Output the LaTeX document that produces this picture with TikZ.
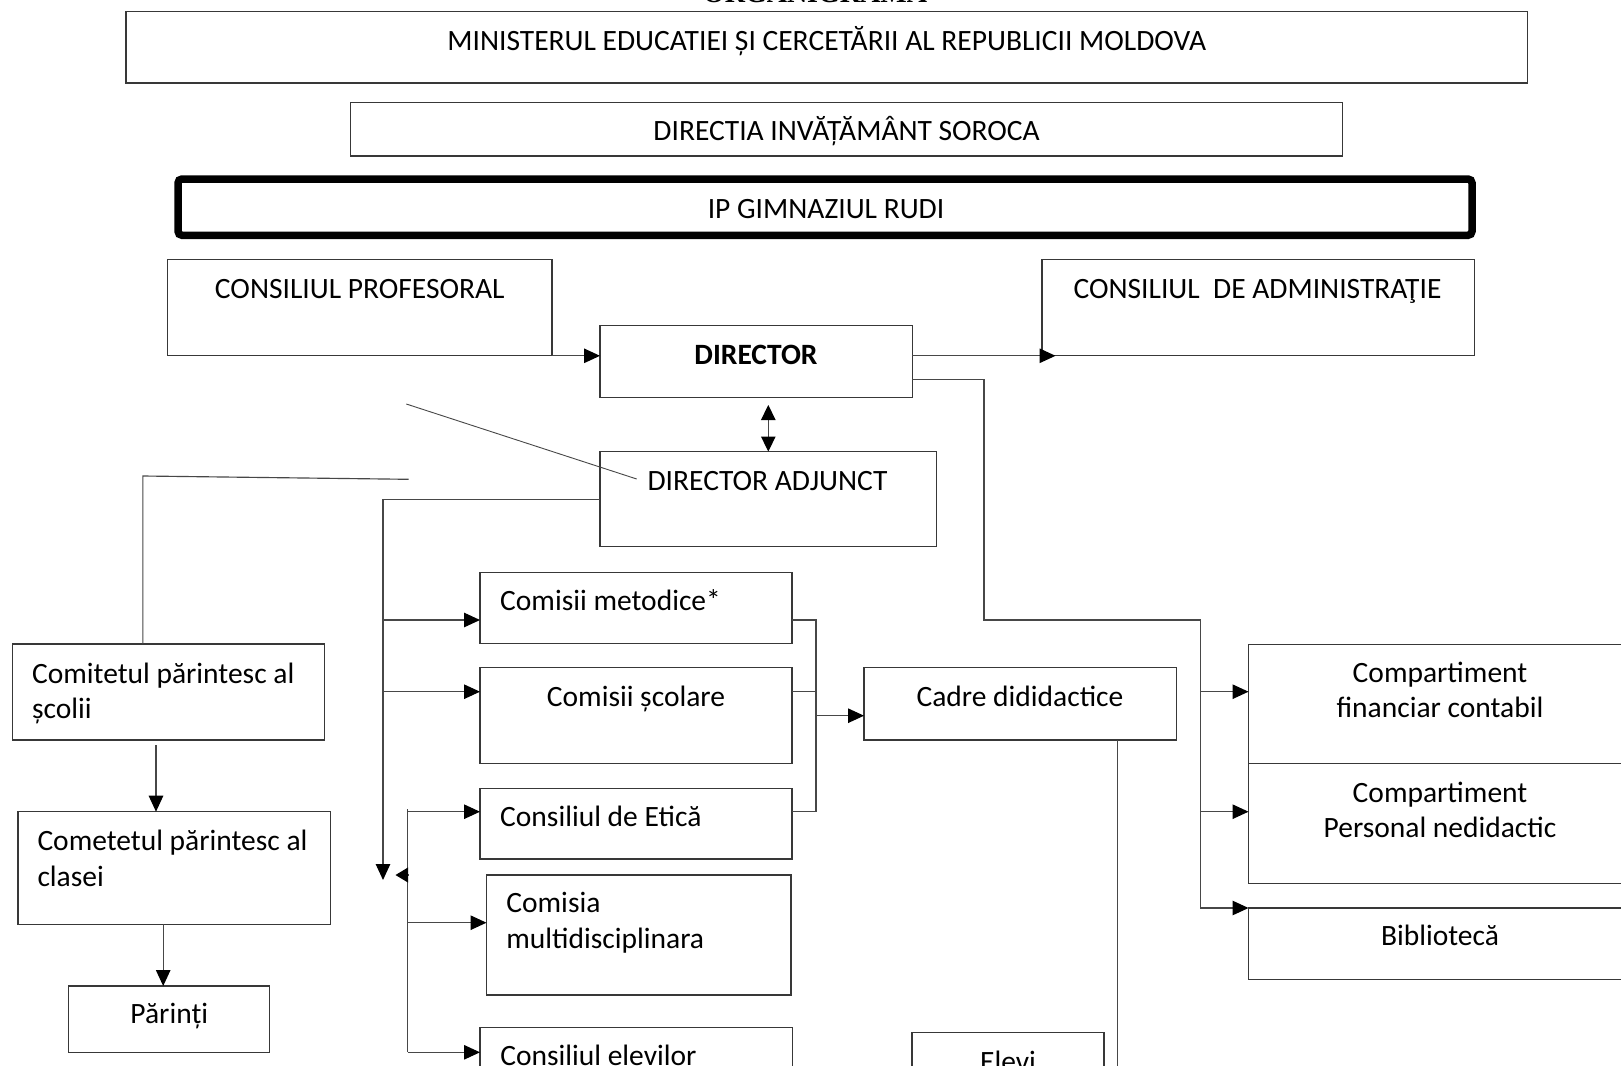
\documentclass[tikz,border=0pt]{standalone}
\usepackage{fontspec}
\setmainfont{Carlito}
\newfontfamily\titlefont{Liberation Serif}
\usetikzlibrary{arrows.meta,fit,calc}
\newcommand{\nfont}{\fontsize{29.5}{35}\selectfont}
\begin{document}
\begin{tikzpicture}[x=1pt,y=-1pt,
  box/.style={draw=black!78, line width=1.3pt, inner sep=0pt, outer sep=0pt, rectangle},
  con/.style={draw=black!72, line width=1.15pt},
  arr/.style={con, -{Triangle[length=16pt,width=14.5pt,color=black]}},
  dbl/.style={con, {Triangle[length=15pt,width=14.5pt,color=black]}-{Triangle[length=15pt,width=14.5pt,color=black]}},
  txt/.style={inner sep=0pt, outer sep=0pt, font=\nfont, text=black},
]
\useasboundingbox (0,0) rectangle (1621,1065);
\clip (0,0) rectangle (1621,1065);
\fill[white] (0,0) rectangle (1621,1065);

% title (cut at top)
\node[inner sep=0pt, anchor=base, font=\titlefont\bfseries\fontsize{28}{28}\selectfont] (title) at (815,3) {ORGANIGRAMA};

% boxes
\node[box, fit={(126,11.5) (1527.5,83)}] (min) {};
\node[box, fit={(350.5,102.3) (1342.7,156)}] (dir) {};
\node[box, draw=black, line width=7.5pt, rounded corners=4pt, fit={(178,179) (1472,235.3)}] (ip) {};
\node[box, fit={(167.5,259.5) (552,355.8)}] (cp) {};
\node[box, fit={(1042,259.5) (1474.2,355.8)}] (ca) {};
\node[box, fit={(600,325.7) (912.3,397.5)}] (d) {};
\node[box, fit={(600,451.5) (936.5,546.7)}] (da) {};
\node[box, fit={(480,572.3) (792.1,643.8)}] (cm) {};
\node[box, fit={(480,667.7) (792.1,763.3)}] (cs) {};
\node[box, fit={(480,788.3) (792.1,859)}] (ce) {};
\node[box, fit={(486.5,875) (791,995)}] (cmd) {};
\node[box, fit={(480,1027.5) (792.5,1090)}] (cel) {};
\node[box, fit={(864,667.7) (1176.3,740)}] (cdd) {};
\node[box, fit={(912,1032.3) (1104,1090)}] (elevi) {};
\node[box, fit={(1248.5,644.3) (1640,763.5)}] (cfc) {};
\node[box, fit={(1248.5,763.5) (1640,883.8)}] (pn) {};
\node[box, fit={(1248.5,908) (1640,979.3)}] (bib) {};
\node[box, fit={(12.5,644) (324.3,740)}] (cps) {};
\node[box, fit={(17.9,811.7) (330.4,924.3)}] (cpc) {};
\node[box, fit={(68.6,986) (269.6,1052.3)}] (par) {};

% texts
\node[txt, anchor=base] (tmin) at (826.8,50.5) {MINISTERUL EDUCATIEI ȘI CERCETĂRII AL REPUBLICII MOLDOVA};
\node[txt, anchor=base] (tdir) at (846.6,140.5) {DIRECTIA INVĂȚĂMÂNT SOROCA};
\node[txt, anchor=base] (tip) at (826,218) {IP GIMNAZIUL RUDI};
\node[txt, anchor=base] (tcp) at (359.8,298) {CONSILIUL PROFESORAL};
\node[txt, anchor=base] (tca) at (1257.5,298) {CONSILIUL\ \ DE ADMINISTRAŢIE};
\node[txt, anchor=base, font=\nfont\bfseries] (td) at (756,364.3) {DIRECTOR};
\node[txt, anchor=base] (tda) at (767.5,490) {DIRECTOR ADJUNCT};
\node[txt, anchor=base west] (tcm) at (500.2,610) {Comisii metodice*};
\node[txt, anchor=base] (tcs) at (636,706) {Comisii școlare};
\node[txt, anchor=base west] (tce) at (500.2,826) {Consiliul de Etică};
\node[txt, anchor=base west] (tcmd1) at (506.4,912) {Comisia};
\node[txt, anchor=base west] (tcmd2) at (506.4,948.5) {multidisciplinara};
\node[txt, anchor=base west] (tcel) at (500.3,1065.4) {Consiliul elevilor};
\node[txt, anchor=base] (tcdd) at (1020,706) {Cadre dididactice};
\node[txt, anchor=base] (televi) at (1008,1071) {Elevi};
\node[txt, anchor=base] (tcfc1) at (1440,682) {Compartiment};
\node[txt, anchor=base] (tcfc2) at (1440,717.5) {financiar contabil};
\node[txt, anchor=base] (tpn1) at (1440,802) {Compartiment};
\node[txt, anchor=base] (tpn2) at (1440,837.5) {Personal nedidactic};
\node[txt, anchor=base] (tbib) at (1440,945.5) {Bibliotecă};
\node[txt, anchor=base west] (tcps1) at (32.1,683) {Comitetul părintesc al};
\node[txt, anchor=base west] (tcps2) at (32.1,718) {școlii};
\node[txt, anchor=base west] (tcpc1) at (37.5,850.5) {Cometetul părintesc al};
\node[txt, anchor=base west] (tcpc2) at (37.5,886) {clasei};
\node[txt, anchor=base] (tpar) at (169.3,1023.5) {Părinți};

% junction coordinates
\coordinate (caIn) at (1055.5,355.8);
\coordinate (dOut) at (912.3,379.3);
\coordinate (sA) at (984,379.3);
\coordinate (sB) at (984,620);
\coordinate (sC) at (1200.4,620);
\coordinate (sD) at (1200.4,908);
\coordinate (dUp) at (768.3,405);
\coordinate (dDn) at (768.3,451.5);
\coordinate (g1) at (406.3,404);
\coordinate (g2) at (636.7,479);
\coordinate (h1) at (142.9,476);
\coordinate (h2) at (408.5,479.3);
\coordinate (busL) at (383,880);
\coordinate (busR1) at (407.5,809.3);
\coordinate (busR2) at (407.5,1052.3);
\coordinate (lt1) at (408.2,875);
\coordinate (lt2) at (395.5,875);
\coordinate (brk1) at (816,620);
\coordinate (brk2) at (816,811.7);
\coordinate (brkM) at (816,715.7);
\coordinate (cddEnd) at (1117.6,1070);

% connectors
\draw[arr] (cp.south east) -- (d.west |- cp.south east);
\draw[arr] (d.east |- caIn) -- (caIn);
\draw[con] (dOut) -- (sA) -- (sB) -- (sC) -- (sD);
\draw[arr] (sC |- 0,691.7) -- (cfc.west |- 0,691.7);
\draw[arr] (sC |- 0,811.7) -- (pn.west |- 0,811.7);
\draw[arr] (sD) -- (bib.north west);
\draw[dbl] (dUp) -- (dDn);
\draw[con, line width=0.9pt] (g1) -- (g2);
\draw[con] (h2) -- (h1) -- (h1 |- cps.north);
\draw[arr] (da.west) -| (busL);
\draw[arr] (busL |- 0,620) -- (cm.west |- 0,620);
\draw[arr] (busL |- 0,691.7) -- (cs.west |- 0,691.7);
\draw[con] (busR1) -- (busR2);
\draw[con, -{Triangle[length=12.7pt,width=15pt,color=black]}] (lt1) -- (lt2);
\draw[arr] (busR1 |- 0,811.7) -- (ce.west |- 0,811.7);
\draw[arr] (busR1 |- 0,922.7) -- (cmd.west |- 0,922.7);
\draw[arr] (busR2) -- (cel.west |- busR2);
\draw[con] (cm.east |- brk1) -- (brk1) -- (brk2) -- (ce.east |- brk2);
\draw[con] (cs.east |- 0,691.7) -- (brk1 |- 0,691.7);
\draw[arr] (brkM) -- (cdd.west |- brkM);
\draw[con] (cdd.south -| cddEnd) -- (cddEnd);
\draw[arr] (156,745) -- (cpc.north -| 156,0);
\draw[arr] (cpc.south -| 163.2,0) -- (par.north -| 163.2,0);
\end{tikzpicture}
\end{document}
